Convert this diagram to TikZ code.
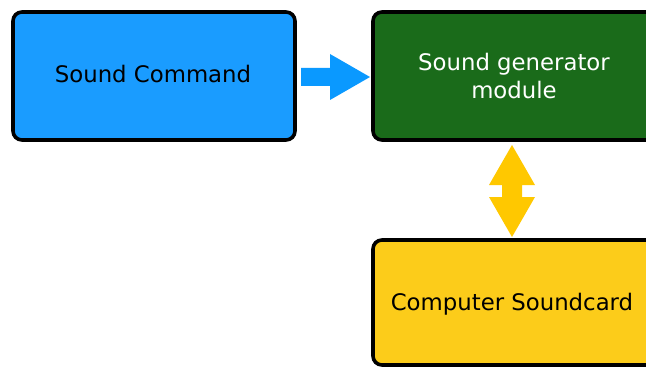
\documentclass[tikz,border=0pt]{standalone}
\usepackage{fontspec}
\setmainfont{DejaVu Sans}
\definecolor{cmdblue}{HTML}{1A9CFF}
\definecolor{genGreen}{HTML}{1A6B1A}
\definecolor{cardYellow}{HTML}{FCCC1A}
\definecolor{arrBlue}{HTML}{0A99FF}
\definecolor{arrYellow}{HTML}{FFC800}
\begin{document}
\begin{tikzpicture}[x=1pt,y=-1pt,
  blockbox/.style={draw=black,line width=3.6pt,rounded corners=9pt},
  lbl/.style={font=\fontsize{22.8}{28}\selectfont,align=center}]
\useasboundingbox (0,0) rectangle (646,369);
\clip (0,0) rectangle (646,369);
\fill[white] (0,0) rectangle (646,369);
% boxes
\draw[blockbox,fill=cmdblue] (13,12) rectangle (295,140);
\draw[blockbox,fill=genGreen] (373,12) rectangle (655,140);
\draw[blockbox,fill=cardYellow] (373,240) rectangle (655,365);
% labels
\node[lbl,text=black] (cmd) at (153,74) {Sound Command};
\node[lbl,text=white] (gen) at (514,76) {Sound generator\\module};
\node[lbl,text=black] (card) at (512,304) {Computer Soundcard};
% blue arrow
\fill[arrBlue] (301,68) -- (330,68) -- (330,54) -- (370,77) -- (330,100) -- (330,86) -- (301,86) -- cycle;
% yellow double arrow
\fill[arrYellow] (512,145) -- (535,185) -- (522,185) -- (522,197) -- (535,197) -- (512,237)
  -- (489,197) -- (502,197) -- (502,185) -- (489,185) -- cycle;
\end{tikzpicture}
\end{document}
